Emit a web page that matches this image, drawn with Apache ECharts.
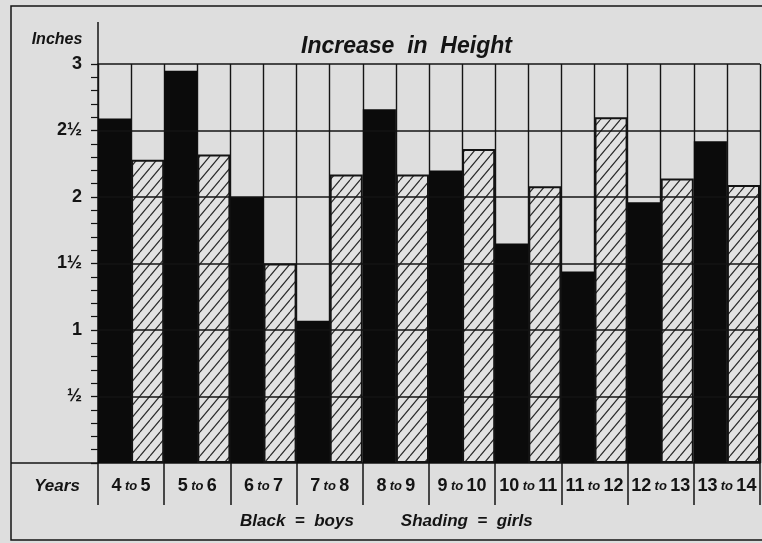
<!DOCTYPE html>
<html>
<head>
<meta charset="utf-8">
<script src="https://cdn.jsdelivr.net/npm/echarts@6/dist/echarts.min.js"></script>
<style>
  html, body { margin: 0; padding: 0; background: #dedede; }
  #chart { width: 762px; height: 543px; }
</style>
</head>
<body>
<div id="chart"></div>
<script>
// data (inches of growth per year of age)
const categories = ['4 to 5', '5 to 6', '6 to 7', '7 to 8', '8 to 9', '9 to 10', '10 to 11', '11 to 12', '12 to 13', '13 to 14']
const boys = [2.59, 2.95, 2.0, 1.07, 2.66, 2.2, 1.65, 1.44, 1.96, 2.42]
const girls = [2.28, 2.32, 1.5, 2.17, 2.17, 2.36, 2.08, 2.6, 2.14, 2.09]
const yTicks = [0.5, 1, 1.5, 2, 2.5, 3]
const yTickLabels = ['½', '1', '1½', '2', '2½', '3']

const ink = '#141414'
const paper = '#dedede'
const font = 'Liberation Sans'

// diagonal hatching for the girls' bars
const makeHatch = () => {
  const w = 10, h = 12
  const c = document.createElement('canvas')
  c.width = w
  c.height = h
  const ctx = c.getContext('2d')
  ctx.fillStyle = '#e2e2e2'
  ctx.fillRect(0, 0, w, h)
  ctx.strokeStyle = '#2a2a2a'
  ctx.lineWidth = 1.2
  ctx.beginPath()
  ctx.moveTo(0, h); ctx.lineTo(w, 0)
  ctx.moveTo(-w, h); ctx.lineTo(0, 0)
  ctx.moveTo(w, h); ctx.lineTo(2 * w, 0)
  ctx.stroke()
  return c
}

const halves = categories.flatMap(c => [c + ' b', c + ' g'])

const chart = echarts.init(document.getElementById('chart'))

const option = {
  backgroundColor: paper,
  animation: false,
  textStyle: { fontFamily: font, color: ink },
  title: {
    text: 'Increase  in  Height',
    left: 296,
    top: 30,
    textStyle: { fontFamily: font, fontSize: 23, fontWeight: 'bold', fontStyle: 'italic', color: ink }
  },
  legend: {
    data: ['boys', 'girls'],
    bottom: 8,
    left: 230,
    icon: 'none',
    itemWidth: 0,
    itemGap: 42,
    selectedMode: false,
    formatter: name => (name === 'boys' ? 'Black  =  boys' : 'Shading  =  girls'),
    textStyle: { fontFamily: font, fontSize: 17, fontWeight: 'bold', fontStyle: 'italic', color: ink }
  },
  grid: { left: 98, right: 2, top: 64, bottom: 80 },
  xAxis: [
    {
      type: 'category',
      data: categories,
      axisLine: { show: true, lineStyle: { color: ink, width: 1.5 } },
      axisTick: { show: true, interval: 0, length: 42, lineStyle: { color: ink, width: 1.5 } },
      axisLabel: {
        interval: 0,
        margin: 14,
        formatter: v => {
          const [a, b] = v.split(' to ')
          return `{n|${a}} {t|to} {n|${b}}`
        },
        rich: {
          n: { fontFamily: font, fontSize: 18, fontWeight: 'bold', color: ink },
          t: { fontFamily: font, fontSize: 13, fontWeight: 'bold', fontStyle: 'italic', color: ink }
        }
      },
      splitLine: { show: false }
    },
    {
      // hidden axis only for the half-column rules
      type: 'category',
      data: halves,
      position: 'top',
      axisLine: { show: false },
      axisTick: { show: false },
      axisLabel: { show: false },
      splitLine: { show: true, interval: 0, lineStyle: { color: ink, width: 1.4 } }
    }
  ],
  yAxis: {
    type: 'value',
    min: 0,
    max: 3,
    interval: 0.5,
    axisLine: { show: true, lineStyle: { color: ink, width: 1.5 } },
    axisTick: { show: true, length: 7, lineStyle: { color: ink, width: 1.3 } },
    minorTick: { show: true, splitNumber: 5, length: 7, lineStyle: { color: ink, width: 1.2 } },
    splitLine: { show: false },
    axisLabel: {
      margin: 16,
      fontFamily: font,
      fontSize: 18,
      fontWeight: 'bold',
      color: ink,
      formatter: v => {
        const i = yTicks.indexOf(v)
        return i >= 0 ? yTickLabels[i] : ''
      }
    }
  },
  series: [
    {
      name: 'boys',
      type: 'bar',
      data: boys,
      barGap: '0%',
      barCategoryGap: '0%',
      z: 2,
      itemStyle: { color: '#0b0b0b' }
    },
    {
      name: 'girls',
      type: 'bar',
      data: girls,
      z: 3,
      itemStyle: {
        color: { image: makeHatch(), repeat: 'repeat' },
        borderColor: ink,
        borderWidth: 2
      },
      markLine: {
        silent: true,
        symbol: 'none',
        label: { show: false },
        lineStyle: { color: ink, width: 1.6, type: 'solid' },
        data: yTicks.map(v => ({ yAxis: v }))
      }
    }
  ],
  graphic: [
    {
      type: 'rect',
      shape: { x: 11, y: 6, width: 760, height: 534 },
      style: { fill: 'none', stroke: ink, lineWidth: 1.5 },
      silent: true
    },
    {
      type: 'line',
      shape: { x1: 98, y1: 22, x2: 98, y2: 64 },
      style: { stroke: ink, lineWidth: 1.5 }
    },
    {
      type: 'line',
      shape: { x1: 11, y1: 463, x2: 98, y2: 463 },
      style: { stroke: ink, lineWidth: 1.5 }
    },
    {
      type: 'text',
      x: 57,
      y: 40,
      style: {
        text: 'Inches',
        fontFamily: font,
        fontSize: 16,
        fontWeight: 'bold',
        fontStyle: 'italic',
        fill: ink,
        align: 'center',
        verticalAlign: 'middle'
      }
    },
    {
      type: 'text',
      x: 57,
      y: 486,
      style: {
        text: 'Years',
        fontFamily: font,
        fontSize: 17,
        fontWeight: 'bold',
        fontStyle: 'italic',
        fill: ink,
        align: 'center',
        verticalAlign: 'middle'
      }
    }
  ]
}

chart.setOption(option)
</script>
</body>
</html>
